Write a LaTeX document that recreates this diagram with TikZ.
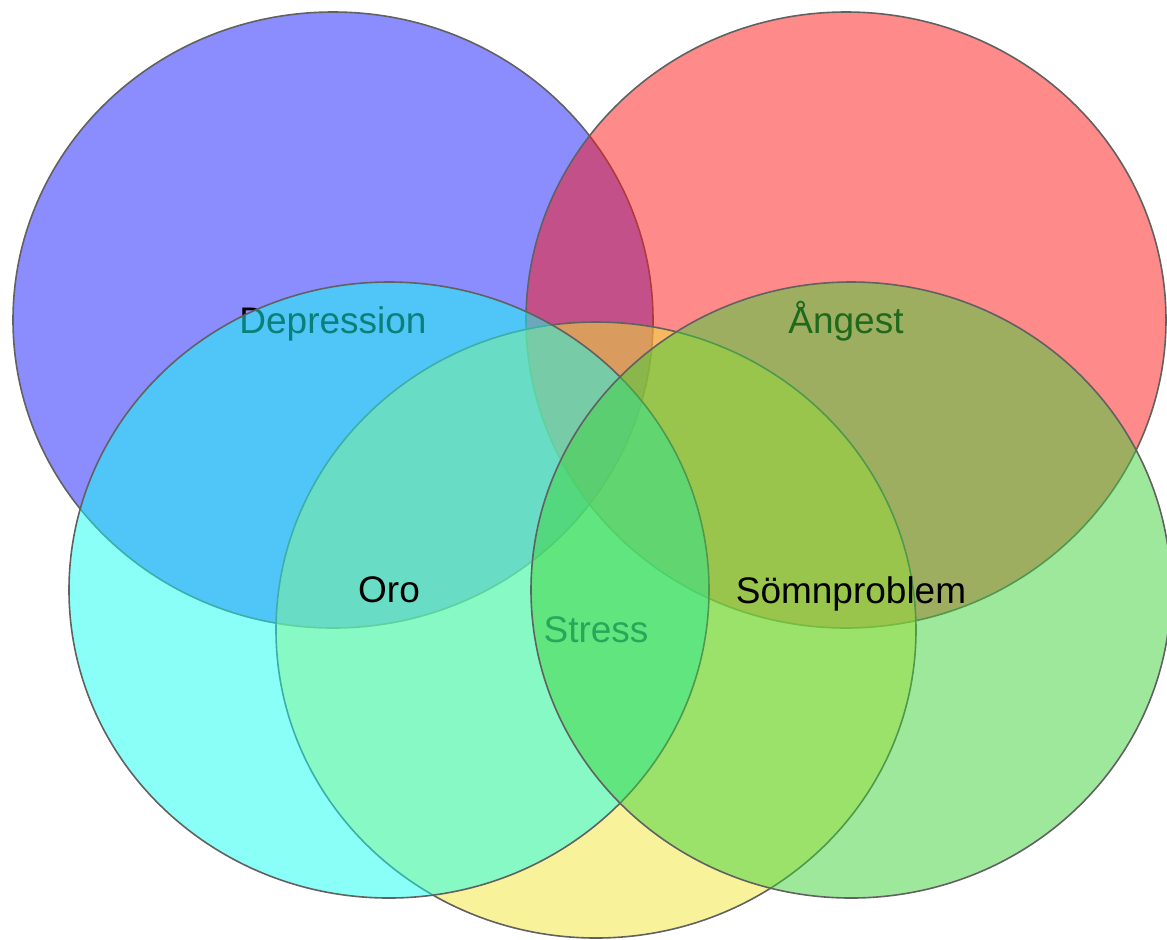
\documentclass[tikz,border=0pt]{standalone}
\usepackage{fontspec}
\setmainfont{Liberation Sans}
\usetikzlibrary{shapes.geometric}
\definecolor{deprblue}{RGB}{23,27,255}
\definecolor{angred}{RGB}{255,21,21}
\definecolor{stressyellow}{RGB}{241,231,53}
\definecolor{orocyan}{RGB}{21,255,241}
\definecolor{somngreen}{RGB}{62,210,58}

\begin{document}
\begin{tikzpicture}[x=0.5pt, y=-0.5pt,
     set/.style = {ellipse, draw=black!62, line width=0.8pt,
                   fill opacity=0.5, text opacity=1,
                   minimum width=320pt, minimum height=308pt, inner sep=0pt,
                   text depth=0pt,
                   font=\fontsize{18.5}{22}\selectfont}
                    ]
\useasboundingbox (0,0) rectangle (1167,939);

\node[set, fill=deprblue]     (depr)   at (333,320) {Depression};
\node[set, fill=angred, text depth=3pt] (angest) at (846,320) {Ångest};
\node[set, fill=stressyellow] (stress) at (596,630) {Stress};
\node[set, fill=orocyan]      (oro)    at (389,590) {Oro};
\node[set, fill=somngreen]    (somn)   at (851,590) {Sömnproblem};
\end{tikzpicture}
\end{document}
